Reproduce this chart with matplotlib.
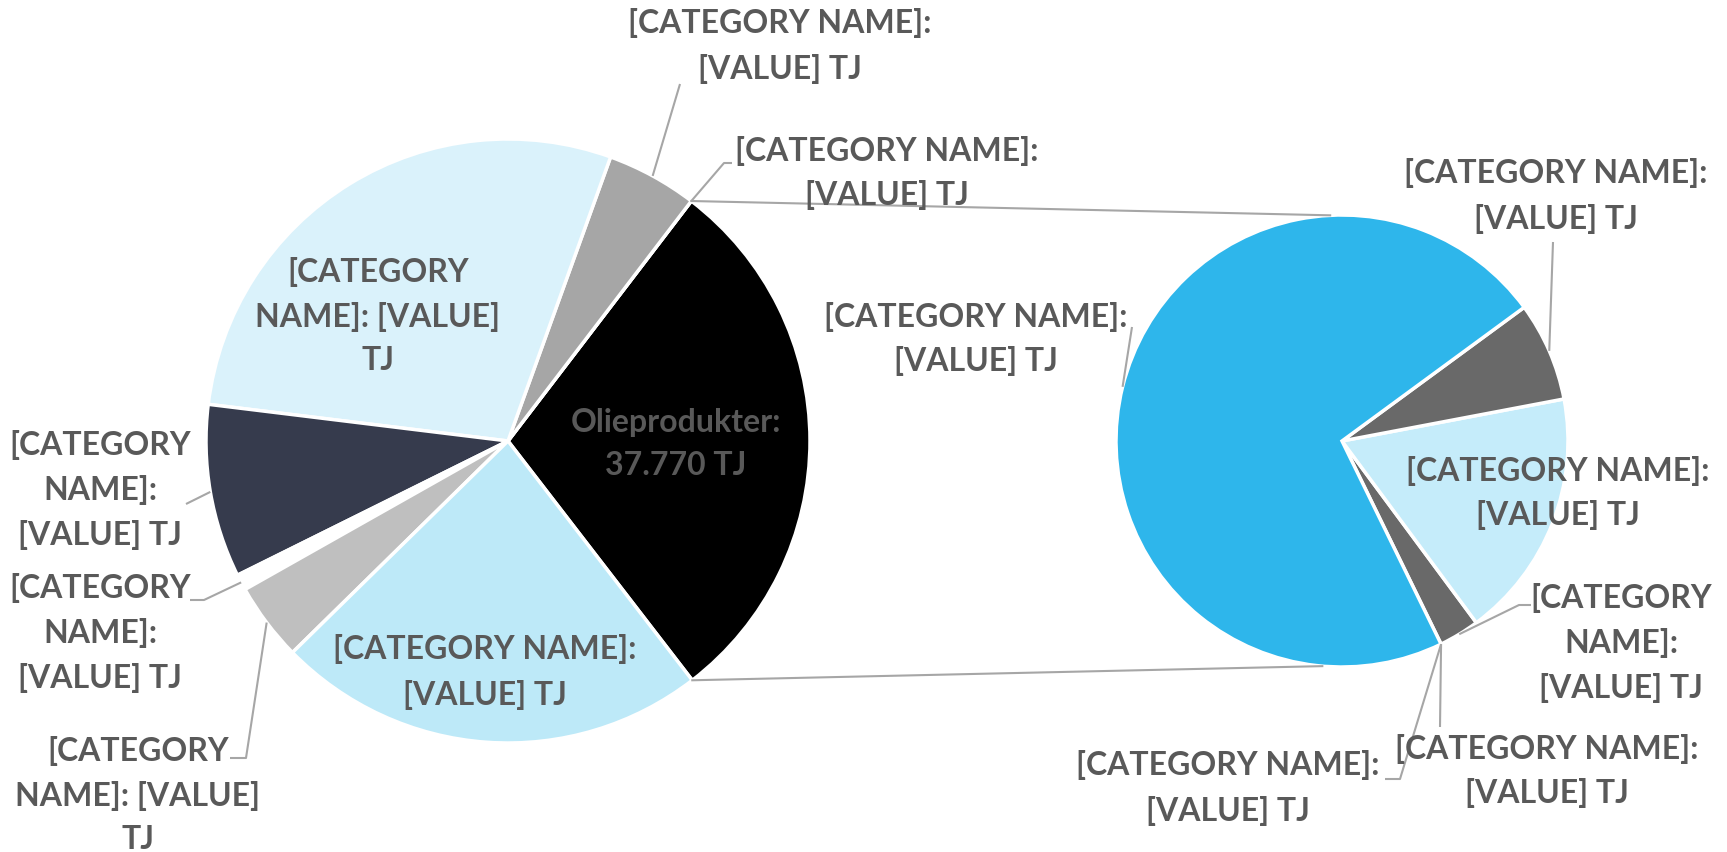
import numpy as np
import matplotlib
matplotlib.use("Agg")
import matplotlib.pyplot as plt

# ---------------- data ----------------
main_categories = ["Olieprodukter", "[CATEGORY NAME]", "[CATEGORY NAME]", "[CATEGORY NAME]",
                   "[CATEGORY NAME]", "[CATEGORY NAME]", "[CATEGORY NAME]", "[CATEGORY NAME]"]
main_values = [37770, 0, 6300, 37000, 12000, 1100, 5400, 29900]
main_labels = [
    "Olieprodukter:\n37.770 TJ",
    "[CATEGORY NAME]:\n[VALUE] TJ",
    "[CATEGORY NAME]:\n[VALUE] TJ",
    "[CATEGORY\nNAME]: [VALUE]\nTJ",
    "[CATEGORY\nNAME]:\n[VALUE] TJ",
    "[CATEGORY\nNAME]:\n[VALUE] TJ",
    "[CATEGORY\nNAME]: [VALUE]\nTJ",
    "[CATEGORY NAME]:\n[VALUE] TJ",
]
sec_values = [0, 0, 1100, 6740, 2680, 27250]
sec_labels = [
    "[CATEGORY NAME]:\n[VALUE] TJ",
    "[CATEGORY NAME]:\n[VALUE] TJ",
    "[CATEGORY\nNAME]:\n[VALUE] TJ",
    "[CATEGORY NAME]:\n[VALUE] TJ",
    "[CATEGORY NAME]:\n[VALUE] TJ",
    "[CATEGORY NAME]:\n[VALUE] TJ",
]

# ---------------- style / layout ----------------
main_colors = ["#000000", "#FFFFFF", "#A6A6A6", "#DAF2FB", "#363B4D", "#FFFFFF", "#BFBFBF", "#BDE9F8"]
sec_colors = ["#FFFFFF", "#FFFFFF", "#696969", "#C5ECFA", "#696969", "#2EB6EB"]

W, H = 1727, 852
def P(x, y):  # pixel (top-left origin) -> data
    return (x, H - y)

main_center = P(508, 441)
main_r = 302
main_start = -52.4
sec_center = P(1342, 441)
sec_r = 226
sec_start = -64.0

TXT = "#595959"
LEAD = "#A6A6A6"
FONT = "Lato"
FS = 23
LS = 1.6

# label layout: (text position px, leader elbow points px or None)
main_layout = [
    ((676, 444), None),
    ((887, 173), [(732, 163), (724, 163)]),
    ((780, 46), [(680, 84)]),
    ((378, 316), None),
    ((100, 490), [(186, 504)]),
    ((100, 633), [(190, 600), (204, 600)]),
    ((138, 795), [(230, 758), (246, 758)]),
    ((485, 672), None),
]
sec_layout = [
    ((1228, 788), [(1385, 779), (1400, 779)]),
    ((1547, 771), [(1440, 727)]),
    ((1621, 643), [(1531, 605), (1519, 605)]),
    ((1558, 493), None),
    ((1556, 196), [(1553, 242)]),
    ((976, 339), [(1132, 327)]),
]

fig = plt.figure(figsize=(W / 100, H / 100), dpi=100)
ax = fig.add_axes([0, 0, 1, 1])

def draw_pie(values, colors, center, r, start, labels, layout):
    ax.pie(values, colors=colors, startangle=start, counterclock=True,
           center=center, radius=r,
           wedgeprops=dict(edgecolor="white", linewidth=2.5))
    total = float(sum(values))
    cum = start
    mids = []
    for v in values:
        a = v / total * 360.0
        mids.append(cum + a / 2.0)
        cum += a
    for lab, mid, (tpos, elbow) in zip(labels, mids, layout):
        tx, ty = P(*tpos)
        ax.text(tx, ty, lab, ha="center", va="center", color=TXT,
                fontsize=FS, fontweight="bold", family=FONT, linespacing=LS)
        if elbow is not None:
            ex = center[0] + r * np.cos(np.radians(mid))
            ey = center[1] + r * np.sin(np.radians(mid))
            pts = [P(*p) for p in elbow] + [(ex, ey)]
            xs, ys = zip(*pts)
            ax.plot(xs, ys, color=LEAD, lw=1.5, solid_capstyle="butt")
    return total

draw_pie(main_values, main_colors, main_center, main_r, main_start, main_labels, main_layout)
draw_pie(sec_values, sec_colors, sec_center, sec_r, sec_start, sec_labels, sec_layout)

# connector lines between the "other" slice and the secondary pie
other_angle = main_values[0] / sum(main_values) * 360.0
a_top = np.radians(main_start + other_angle)
a_bot = np.radians(main_start)
p1 = (main_center[0] + main_r * np.cos(a_top), main_center[1] + main_r * np.sin(a_top))
p2 = (main_center[0] + main_r * np.cos(a_bot), main_center[1] + main_r * np.sin(a_bot))
q1 = (sec_center[0] + sec_r * np.cos(np.radians(93)), sec_center[1] + sec_r * np.sin(np.radians(93)))
q2 = (sec_center[0] + sec_r * np.cos(np.radians(-95)), sec_center[1] + sec_r * np.sin(np.radians(-95)))
ax.plot([p1[0], q1[0]], [p1[1], q1[1]], color=LEAD, lw=1.5)
ax.plot([p2[0], q2[0]], [p2[1], q2[1]], color=LEAD, lw=1.5)

ax.set_xlim(0, W)
ax.set_ylim(0, H)
ax.set_aspect("equal")
ax.axis("off")
fig.savefig("out.png", dpi=100)
